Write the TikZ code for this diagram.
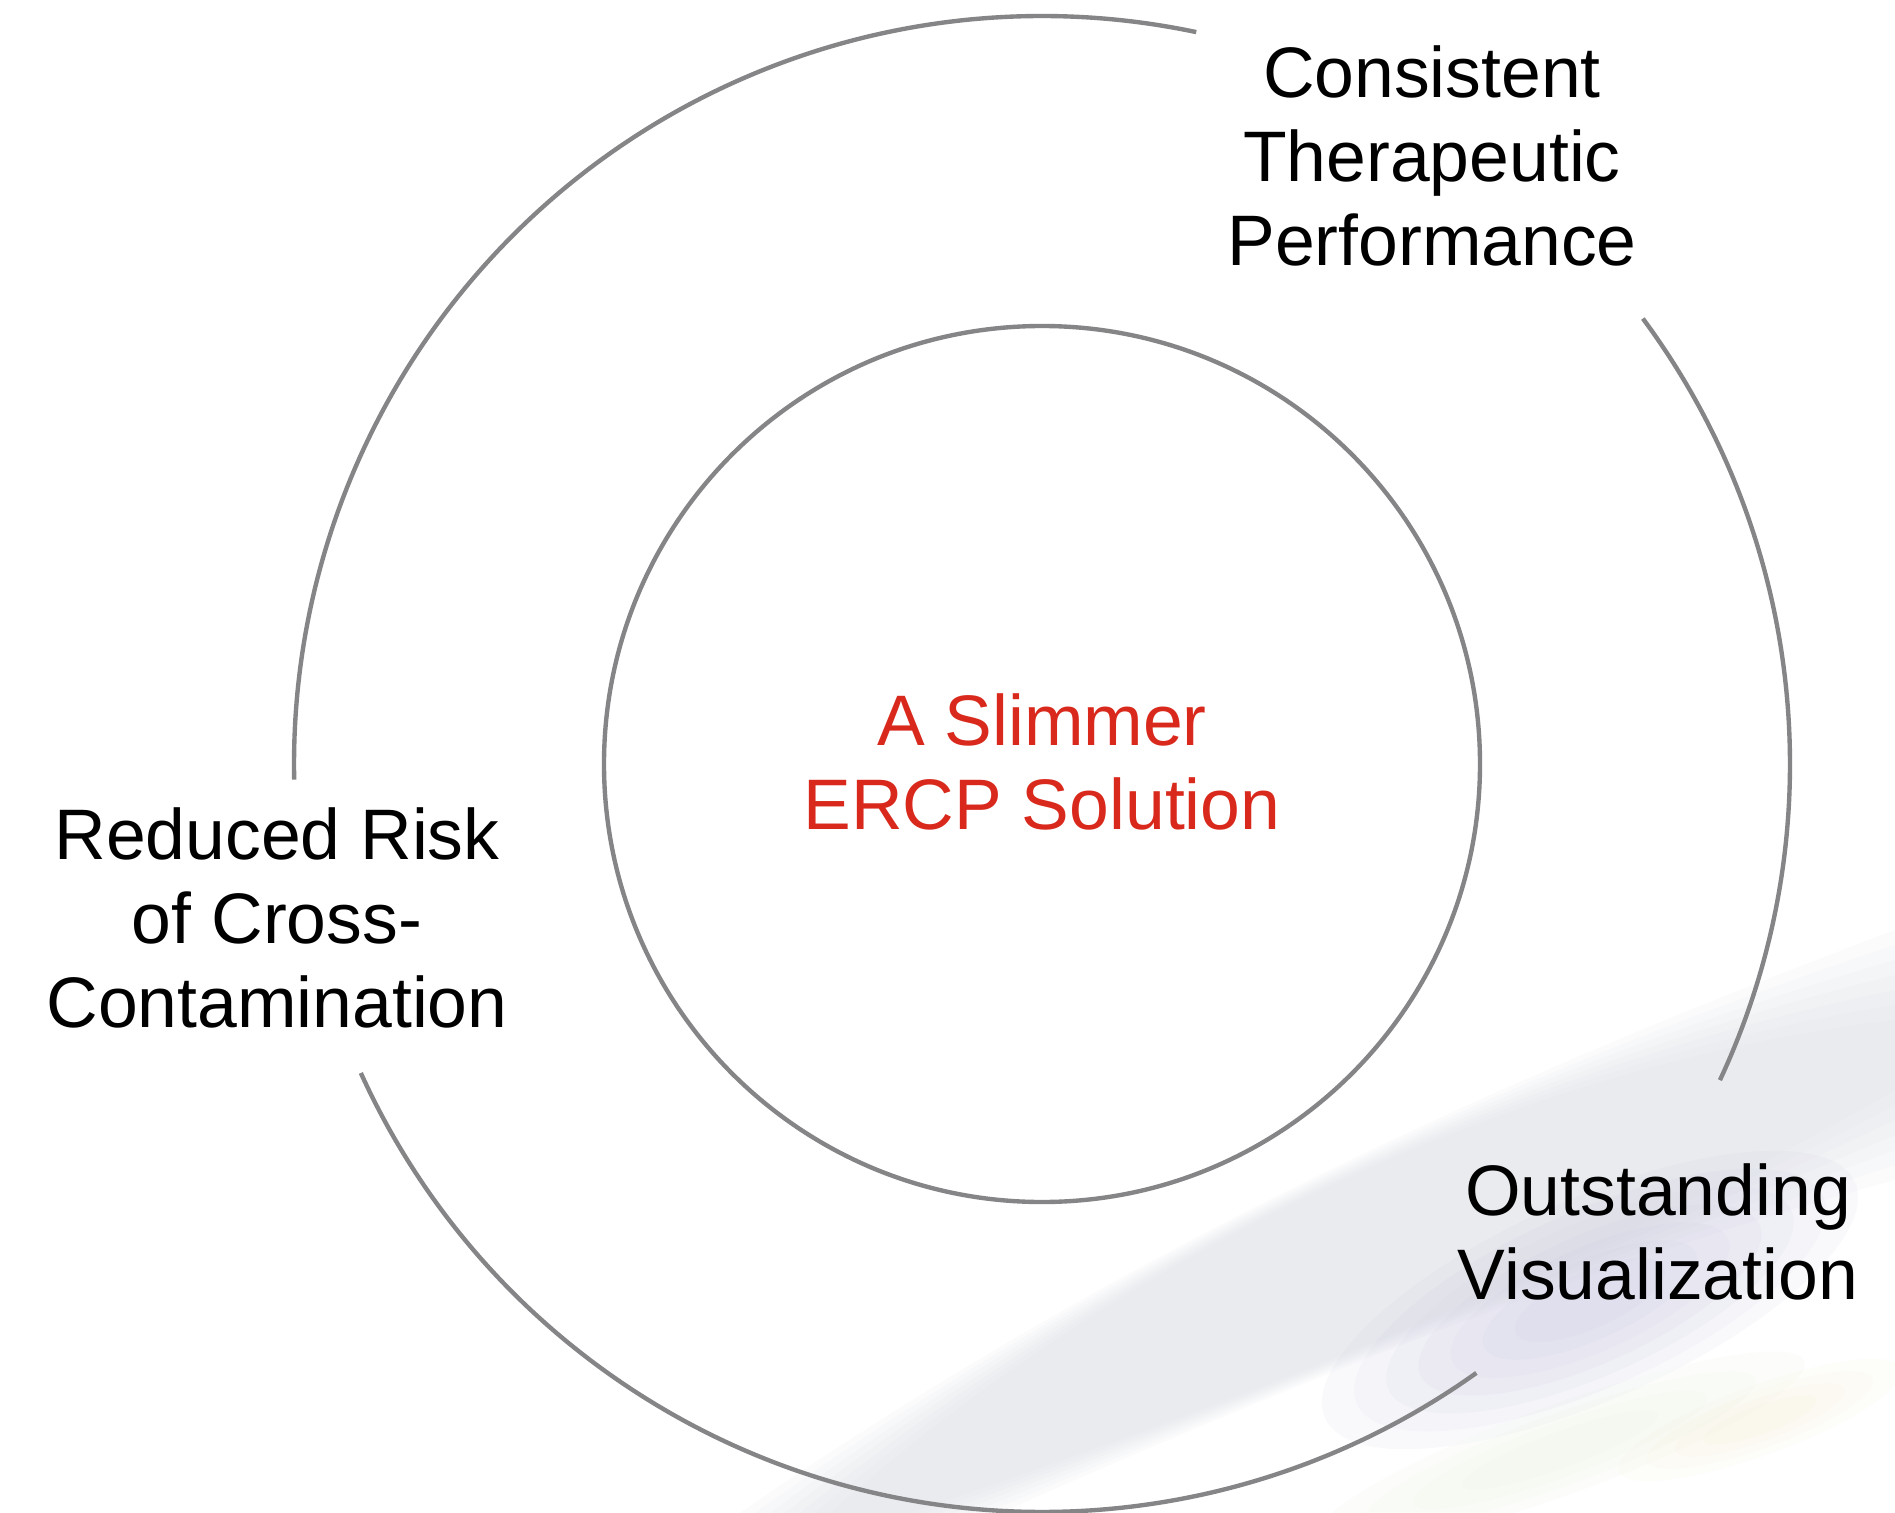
\documentclass[tikz,border=0pt]{standalone}
\usepackage{fontspec}
\setmainfont{Liberation Sans}
\begin{document}
\begin{tikzpicture}[x=0.4pt,y=-0.4pt,
  ring/.style={draw=ringgray,line width=1.75pt},
  lbl/.style={font=\fontsize{28.6pt}{33.6pt}\selectfont,align=center,anchor=base,inner sep=0pt,text=black},
  redlbl/.style={lbl,text=ercpred},
  haze/.style={fill=#1,draw=none,opacity=0.07}
]
\definecolor{ringgray}{HTML}{858587}
\definecolor{ercpred}{HTML}{D9291C}
\definecolor{lav}{HTML}{C4C2DE}
\definecolor{greyband}{HTML}{CFD3DA}
\definecolor{tintgreen}{HTML}{DDEBCB}
\definecolor{tintyel}{HTML}{EFE9BE}
\useasboundingbox (0,0) rectangle (1895,1513);
\fill[white] (0,0) rectangle (1895,1513);

% faint background swoosh (bottom right)
\foreach \w in {0,15,30,45,60,75,90}{
  \fill[haze=greyband] (740+\w,1513) .. controls (1150,1230) and (1550,1060) .. (1895,930+\w)
     -- (1895,1180-\w) .. controls (1600,1260) and (1300,1380) .. (1000-\w,1513) -- cycle;
}
\foreach \r in {1,0.88,0.76,0.64,0.52,0.4,0.28}{
  \fill[haze=lav,opacity=0.09,rotate around={24:(1590,1300)}] (1590,1300) ellipse ({290*\r} and {100*\r});
}
\foreach \r in {1,0.8,0.6,0.4}{
  \fill[haze=tintgreen,rotate around={20:(1560,1450)}] (1560,1450) ellipse ({260*\r} and {45*\r});
  \fill[haze=tintyel,rotate around={20:(1760,1420)}] (1760,1420) ellipse ({150*\r} and {35*\r});
}

% circles
\coordinate (c) at (1042,764);
\node[circle,ring,minimum size=350.4pt,inner sep=0pt] (inner) at (c) {};
\draw[ring] (c) ++(-78.1:748) arc[start angle=-78.1,end angle=-181.2,radius=748];
\draw[ring] (c) ++(25:748) arc[start angle=25,end angle=-36.55,radius=748];
\draw[ring] (c) ++(-204.4:748) arc[start angle=-204.4,end angle=-305.5,radius=748];

% labels (anchor = baseline of the last line)
\node[redlbl] (center) at (1042,829) {A Slimmer\\ERCP Solution};
\node[lbl] (perf) at (1432,265) {Consistent\\Therapeutic\\Performance};
\node[lbl] (vis) at (1658,1299) {Outstanding\\Visualization};
\node[lbl] (risk) at (277,1027) {Reduced Risk\\of Cross-\\Contamination};
\end{tikzpicture}
\end{document}
